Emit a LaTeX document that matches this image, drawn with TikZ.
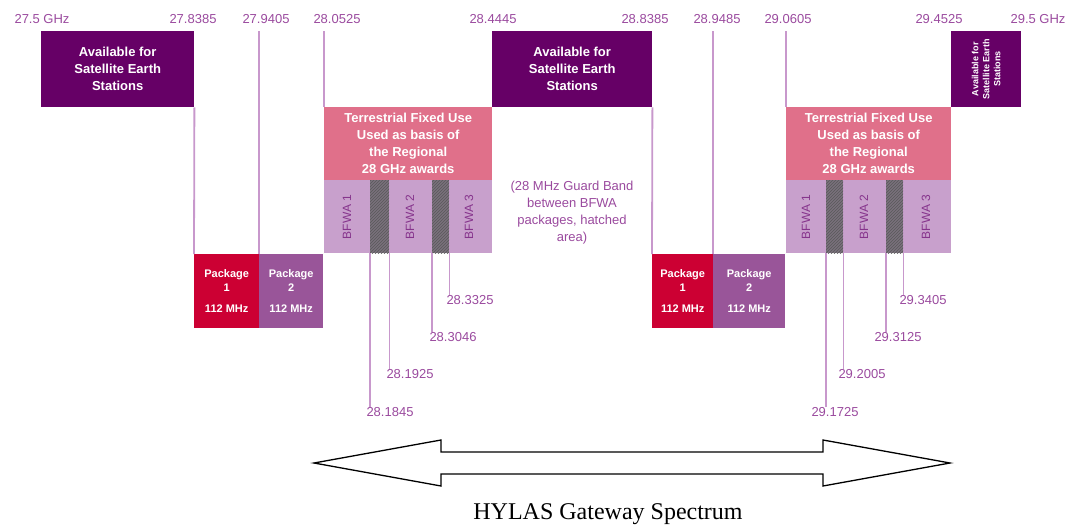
\documentclass[tikz,border=0pt]{standalone}
\usepackage{fontspec}
\setmainfont{Liberation Serif}
\newfontfamily\diagfont{Liberation Sans}
\usetikzlibrary{patterns}

\definecolor{satpurple}{HTML}{660066}
\definecolor{terrpink}{HTML}{E0708A}
\definecolor{bfwalilac}{HTML}{C8A0CC}
\definecolor{pkgred}{HTML}{CC0033}
\definecolor{pkgviolet}{HTML}{995599}
\definecolor{labelpurple}{HTML}{9A4A9E}
\definecolor{bfwatext}{HTML}{86348C}
\definecolor{tickline}{HTML}{C898CC}
\definecolor{guardgray}{HTML}{7A707C}

\begin{document}
\begin{tikzpicture}[x=1pt, y=-1pt,
    band/.style={inner sep=0pt, anchor=north west, align=center, text=white,
      font=\diagfont\bfseries\fontsize{13}{17}\selectfont},
    pkg/.style={band, minimum height=74pt, font=\diagfont\bfseries\fontsize{11}{14}\selectfont},
    freq/.style={text=labelpurple, inner sep=0pt, align=center,
      font=\diagfont\fontsize{13}{17}\selectfont},
    bfwa/.style={text=bfwatext, inner sep=0pt, rotate=90,
      font=\diagfont\fontsize{12}{14}\selectfont},
    guard/.style={band, fill=guardgray, minimum height=73pt,
      postaction={pattern=north east lines, pattern color=black!65}},
    tick/.style={draw=tickline, line width=1.8pt}]
  \useasboundingbox (0,0) rectangle (1071,530);

  \node[freq] (f275)   at (42,19)   {27.5 GHz};
  \node[freq] (f8385)  at (193,19)  {27.8385};
  \node[freq] (f9405)  at (266,19)  {27.9405};
  \node[freq] (f0525)  at (337,19)  {28.0525};
  \node[freq] (f4445)  at (493,19)  {28.4445};
  \node[freq] (f88385) at (645,19)  {28.8385};
  \node[freq] (f9485)  at (717,19)  {28.9485};
  \node[freq] (f0605)  at (788,19)  {29.0605};
  \node[freq] (f4525)  at (939,19)  {29.4525};
  \node[freq] (f295)   at (1038,19) {29.5 GHz};

  \node[band, fill=satpurple, minimum width=153pt, minimum height=76pt] (sat1) at (41,31)
    {Available for\\Satellite Earth\\Stations};
  \node[band, fill=satpurple, minimum width=160pt, minimum height=76pt] (sat2) at (492,31)
    {Available for\\Satellite Earth\\Stations};
  \node[band, fill=satpurple, minimum width=70pt, minimum height=76pt] (sat3) at (951,31) {};
  \node[text=white, rotate=90, align=center, inner sep=0pt,
    font=\diagfont\bfseries\fontsize{9}{11}\selectfont] (sat3txt) at (sat3.center)
    {Available for\\Satellite Earth\\Stations};

  \node[band, fill=terrpink, minimum width=168pt, minimum height=73pt] (terr1) at (324,107)
    {Terrestrial Fixed Use\\Used as basis of\\the Regional\\28 GHz awards};
  \node[band, fill=terrpink, minimum width=165pt, minimum height=73pt] (terr2) at (786,107)
    {Terrestrial Fixed Use\\Used as basis of\\the Regional\\28 GHz awards};

  \node[band, fill=bfwalilac, minimum width=168pt, minimum height=73pt] (lilac1) at (324,180) {};
  \node[band, fill=bfwalilac, minimum width=165pt, minimum height=73pt] (lilac2) at (786,180) {};
  \node[guard, minimum width=19pt] (g1) at (370,180) {};
  \node[guard, minimum width=17pt] (g2) at (432,180) {};
  \node[guard, minimum width=17pt] (g3) at (826,180) {};
  \node[guard, minimum width=17pt] (g4) at (886,180) {};
  \node[bfwa] (bfwa1a) at (347,217) {BFWA 1};
  \node[bfwa] (bfwa2a) at (410,217) {BFWA 2};
  \node[bfwa] (bfwa3a) at (469,217) {BFWA 3};
  \node[bfwa] (bfwa1b) at (806,217) {BFWA 1};
  \node[bfwa] (bfwa2b) at (864,217) {BFWA 2};
  \node[bfwa] (bfwa3b) at (926,217) {BFWA 3};

  \node[pkg, fill=pkgred, minimum width=65pt] (pkg1a) at (194,254) {Package\\1\\[7pt]112 MHz};
  \node[pkg, fill=pkgviolet, minimum width=64pt] (pkg2a) at (259,254) {Package\\2\\[7pt]112 MHz};
  \node[pkg, fill=pkgred, minimum width=61pt] (pkg1b) at (652,254) {Package\\1\\[7pt]112 MHz};
  \node[pkg, fill=pkgviolet, minimum width=72pt] (pkg2b) at (713,254) {Package\\2\\[7pt]112 MHz};

  \node[freq] (guardnote) at (572,213)
    {(28 MHz Guard Band\\between BFWA\\packages, hatched\\area)};

  \coordinate (c9405) at (259,31);
  \coordinate (c0525) at (324,31);
  \coordinate (c9485) at (713,31);
  \coordinate (c0605) at (786,31);
  \draw[tick] (sat1.south east) -- (pkg1a.north west);
  \draw[tick] (c9405) -- (pkg2a.north west);
  \draw[tick] (c0525) -- (terr1.north west);
  \draw[tick] (sat2.south east) -- (pkg1b.north west);
  \draw[tick] (c9485) -- (pkg2b.north west);
  \draw[tick] (c0605) -- (terr2.north west);

  \node[freq] (l1845) at (390,412) {28.1845};
  \node[freq] (l1925) at (410,374) {28.1925};
  \node[freq] (l3046) at (453,337) {28.3046};
  \node[freq] (l3325) at (470,300) {28.3325};
  \node[freq] (l1725) at (835,412) {29.1725};
  \node[freq] (l2005) at (862,374) {29.2005};
  \node[freq] (l3125) at (898,337) {29.3125};
  \node[freq] (l3405) at (923,300) {29.3405};
  \draw[tick] (g1.south west) -- (g1.south west |- l1845.north);
  \draw[tick] (g1.south east) -- (g1.south east |- l1925.north);
  \draw[tick] (g2.south west) -- (g2.south west |- l3046.north);
  \draw[tick] (g2.south east) -- (g2.south east |- l3325.north);
  \draw[tick] (g3.south west) -- (g3.south west |- l1725.north);
  \draw[tick] (g3.south east) -- (g3.south east |- l2005.north);
  \draw[tick] (g4.south west) -- (g4.south west |- l3125.north);
  \draw[tick] (g4.south east) -- (g4.south east |- l3405.north);

  \draw[line width=1.3pt] (314,463) -- (441,440) -- (441,452) -- (823,452) -- (823,440)
    -- (950,463) -- (823,486) -- (823,474) -- (441,474) -- (441,486) -- cycle;
  \node[font=\fontsize{24}{28}\selectfont] (title) at (608,514) {HYLAS Gateway Spectrum};
\end{tikzpicture}
\end{document}
